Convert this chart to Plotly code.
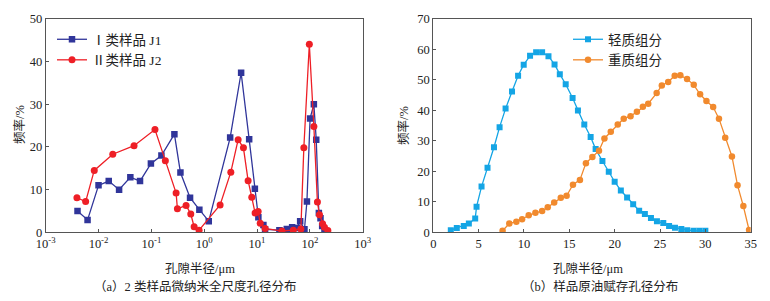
import plotly.graph_objects as go

# ---------- data: left panel (log x) ----------
j1_x = [0.004, 0.0062, 0.01, 0.0156, 0.0245, 0.040, 0.061, 0.098, 0.155, 0.273, 0.355, 0.54, 0.81, 1.22,
        3.1, 5.0, 7.1, 9.1, 10.6, 13.2, 14.2, 26.5, 36.6, 46.2, 56.8, 65.5, 79, 88, 101, 119, 132, 148, 159, 171, 189]
j1_y = [5.0, 2.9, 11.0, 12.0, 10.0, 12.9, 12.0, 16.1, 18.0, 23.0, 14.0, 8.1, 5.3, 2.6,
        22.2, 37.4, 21.8, 10.2, 3.5, 1.7, 0.7, 0.5, 0.8, 1.2, 1.0, 2.6, 0.7, 7.2, 26.7, 30.0, 21.7, 4.5, 3.3, 1.5, 0.5]

j2_x = [0.0039, 0.0057, 0.0083, 0.0186, 0.047, 0.117, 0.184, 0.294, 0.311, 0.454, 0.557, 0.645, 0.80, 2.0,
        3.19, 4.39, 5.53, 6.78, 7.95, 9.2, 10.5, 11.5, 14.2, 29.5, 48.6, 67.6, 76.9, 97.7, 119, 139, 152, 174, 189, 219]
j2_y = [8.1, 7.2, 14.5, 18.3, 20.3, 24.1, 16.8, 9.2, 5.5, 6.3, 4.3, 1.3, 0.5, 6.4,
        14.1, 21.7, 19.8, 12.1, 8.2, 4.5, 4.9, 2.1, 0.9, 0.3, 0.5, 0.8, 19.8, 44.1, 24.8, 7.1, 4.1, 2.0, 1.2, 0.4]

left_tickvals = [0.001, 0.01, 0.1, 1, 10, 100, 1000]
left_ticktext = ["10<sup>-3</sup>", "10<sup>-2</sup>", "10<sup>-1</sup>", "10<sup>0</sup>",
                 "10<sup>1</sup>", "10<sup>2</sup>", "10<sup>3</sup>"]

# ---------- data: right panel ----------
light_x = [1.93, 2.59, 3.36, 3.92, 4.62, 4.77, 5.32, 5.98, 6.69, 7.31, 7.97, 8.68, 9.35, 9.97, 10.67, 11.34,
           12.0, 12.7, 13.37, 13.95, 14.6, 15.36, 15.95, 16.65, 17.35, 17.9, 18.65, 19.35, 20.0, 20.68,
           21.37, 22.04, 22.7, 23.33, 24.0, 24.66, 25.36, 26.0, 26.65, 27.35, 28.0, 28.7, 29.35, 30.0]
light_y = [0.7, 1.4, 2.1, 2.9, 4.5, 8.4, 15.0, 21.2, 27.9, 34.5, 40.6, 46.2, 51.4, 55.0, 57.9, 59.1,
           59.1, 57.8, 55.1, 51.9, 48.6, 44.1, 40.0, 35.4, 31.3, 27.3, 23.4, 19.9, 16.6, 13.7,
           11.4, 9.2, 7.1, 6.0, 4.7, 3.6, 3.05, 2.1, 1.5, 1.1, 0.7, 0.5, 0.5, 0.5]

heavy_x = [7.64, 8.38, 9.16, 9.79, 10.52, 11.26, 12.0, 12.62, 13.33, 14.06, 14.7, 15.4, 16.17, 16.83, 17.54,
           18.27, 18.87, 19.57, 20.34, 21.0, 21.75, 22.45, 23.11, 23.7, 24.63, 25.2, 25.9, 26.62, 27.24,
           27.98, 28.72, 29.42, 30.12, 30.86, 31.5, 32.19, 32.93, 33.55, 34.19, 34.82]
heavy_y = [0.5, 2.9, 3.5, 4.3, 5.6, 6.4, 7.0, 8.2, 9.8, 11.3, 12.0, 15.6, 17.2, 22.7, 24.7,
           26.8, 30.8, 33.0, 35.4, 37.3, 38.1, 39.6, 41.2, 42.2, 45.7, 48.2, 49.3, 51.4, 51.5,
           50.3, 48.4, 45.3, 43.1, 41.1, 37.3, 31.0, 24.9, 15.4, 8.6, 0.75]

FONT = "Liberation Serif, Times New Roman, Noto Sans CJK SC"
OFF = 8                      # page body margin
W, H = 770 - 2 * OFF, 301 - 2 * OFF

def px_x(p):
    return (p - OFF) / W

def px_y(p):
    return 1 - (p - OFF) / H

fig = go.Figure()

fig.add_trace(go.Scatter(x=j1_x, y=j1_y, mode="lines+markers", name="Ⅰ类样品 J1",
                         line=dict(color="#30359A", width=1.3),
                         marker=dict(symbol="square", size=6.5, color="#30359A"),
                         xaxis="x", yaxis="y", legend="legend"))
fig.add_trace(go.Scatter(x=j2_x, y=j2_y, mode="lines+markers", name="Ⅱ类样品 J2",
                         line=dict(color="#EE1F26", width=1.3),
                         marker=dict(symbol="circle", size=7, color="#EE1F26"),
                         xaxis="x", yaxis="y", legend="legend"))
fig.add_trace(go.Scatter(x=light_x, y=light_y, mode="lines+markers", name="轻质组分",
                         line=dict(color="#14A5E5", width=1.3),
                         marker=dict(symbol="square", size=6, color="#14A5E5"),
                         xaxis="x2", yaxis="y2", legend="legend2"))
fig.add_trace(go.Scatter(x=heavy_x, y=heavy_y, mode="lines+markers", name="重质组分",
                         line=dict(color="#F18A2E", width=1.3),
                         marker=dict(symbol="circle", size=6.5, color="#F18A2E"),
                         xaxis="x2", yaxis="y2", legend="legend2"))

axis_common = dict(showgrid=False, zeroline=False, showline=True, mirror=True, automargin=False,
                   linecolor="#555555", linewidth=1, ticks="inside", ticklen=3,
                   tickcolor="#555555", tickfont=dict(family=FONT, size=12.5, color="#222222"))

ydom = [px_y(232.3), px_y(19)]
fig.update_layout(
    template="none",
    width=W, height=H,
    margin=dict(l=0, r=0, t=0, b=0, pad=0),
    font=dict(family=FONT, size=12, color="#222222"),
    paper_bgcolor="white", plot_bgcolor="white",
    xaxis=dict(type="log", range=[-3, 3], domain=[px_x(45.7), px_x(362.7)],
               tickvals=left_tickvals, ticktext=left_ticktext, anchor="y", **axis_common),
    yaxis=dict(range=[0, 50], domain=ydom, tickvals=[0, 10, 20, 30, 40, 50], anchor="x", **axis_common),
    xaxis2=dict(range=[0, 35], domain=[px_x(433.3), px_x(750.7)], tickvals=[0, 5, 10, 15, 20, 25, 30, 35],
                anchor="y2", **axis_common),
    yaxis2=dict(range=[0, 70], domain=ydom, tickvals=[0, 10, 20, 30, 40, 50, 60, 70], anchor="x2",
                **axis_common),
    legend=dict(x=px_x(52), y=px_y(24), xanchor="left", yanchor="top", bgcolor="rgba(0,0,0,0)",
                font=dict(family=FONT, size=13.5, color="#222222"), itemwidth=30, tracegroupgap=0),
    legend2=dict(x=px_x(568), y=px_y(24), xanchor="left", yanchor="top", bgcolor="rgba(0,0,0,0)",
                 font=dict(family=FONT, size=13.5, color="#222222"), itemwidth=30, tracegroupgap=0),
    showlegend=True,
)

ann_font = dict(family=FONT, size=12.5, color="#222222")
annotations = [
    dict(text="频率/%", x=px_x(20), y=px_y(125), textangle=-90),
    dict(text="频率/%", x=px_x(404), y=px_y(125), textangle=-90),
    dict(text="孔隙半径/μm", x=px_x(200), y=px_y(269)),
    dict(text="孔隙半径/μm", x=px_x(588), y=px_y(269)),
    dict(text="（a）2 类样品微纳米全尺度孔径分布", x=px_x(195), y=px_y(286)),
    dict(text="（b）样品原油赋存孔径分布", x=px_x(600), y=px_y(286)),
]
for a in annotations:
    a.update(xref="paper", yref="paper", showarrow=False, font=ann_font, xanchor="center", yanchor="middle")
fig.update_layout(annotations=annotations)

fig.write_html("out.html")
